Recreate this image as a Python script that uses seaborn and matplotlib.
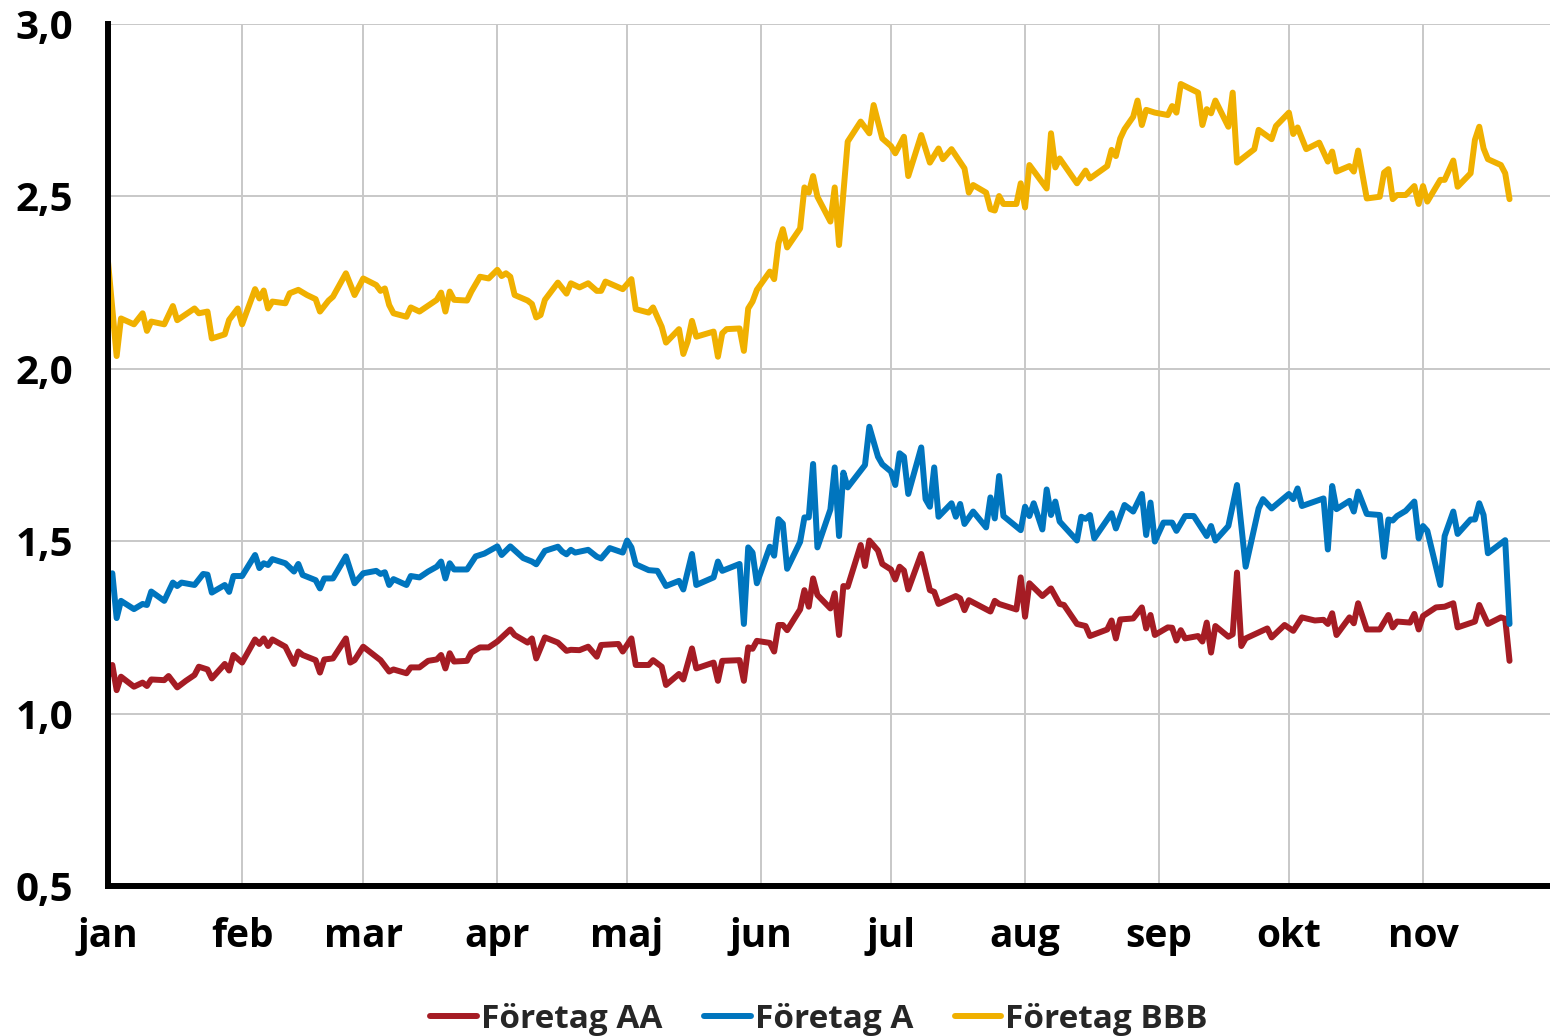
import numpy as np
import pandas as pd
import matplotlib
matplotlib.use("Agg")
import matplotlib.pyplot as plt
import seaborn as sns

# ---------------- data (day offset from 1 Jan, value) ----------------
month_labels = ["jan", "feb", "mar", "apr", "maj", "jun", "jul", "aug", "sep", "okt", "nov"]
series_names = ["Företag AA", "Företag A", "Företag BBB"]
series_colors = ["#A51C24", "#0075BE", "#F0B000"]

bbb_days = [0, 2, 3, 6, 8, 9, 10, 13, 15, 16, 20, 21, 23, 24, 27, 28, 30, 31, 34, 35, 36, 37, 38, 41, 42, 44, 46,
            48, 49, 51, 52, 55, 57, 59, 62, 63, 64, 65, 66, 69, 70, 72, 76, 77, 78, 79, 80, 83, 84, 86, 88, 90, 91,
            92, 93, 94, 97, 98, 99, 100, 101, 104, 106, 107, 109, 111, 113, 114, 115, 119, 121, 122, 125, 126, 128,
            129, 132, 133, 134, 135, 136, 140, 141, 142, 143, 146, 147, 148, 149, 150, 153, 154, 155, 156, 157, 160,
            161, 162, 163, 164, 167, 168, 169, 171, 174, 176, 177, 178, 179, 181, 182, 184, 185, 188, 190, 192, 193,
            195, 198, 199, 200, 203, 204, 205, 206, 207, 210, 211, 212, 213, 217, 218, 219, 220, 224, 226, 227, 231,
            232, 233, 234, 235, 237, 238, 239, 240, 242, 245, 246, 247, 248, 252, 253, 254, 255, 256, 259, 260, 261,
            265, 266, 269, 270, 273, 274, 275, 277, 280, 282, 283, 284, 287, 288, 289, 291, 294, 295, 296, 297, 298,
            300, 302, 303, 304, 305, 308, 309, 311, 312, 315, 316, 317, 318, 319, 322, 323, 324]
bbb_vals = [2.311, 2.037, 2.146, 2.129, 2.161, 2.110, 2.137, 2.129, 2.182, 2.141, 2.175, 2.161, 2.166, 2.088, 2.100,
            2.142, 2.175, 2.129, 2.231, 2.204, 2.227, 2.175, 2.195, 2.190, 2.219, 2.229, 2.214, 2.202, 2.166, 2.198,
            2.209, 2.277, 2.214, 2.262, 2.243, 2.226, 2.233, 2.185, 2.161, 2.151, 2.178, 2.166, 2.200, 2.221, 2.166,
            2.224, 2.200, 2.198, 2.224, 2.267, 2.262, 2.287, 2.269, 2.277, 2.267, 2.214, 2.198, 2.188, 2.149, 2.156,
            2.200, 2.250, 2.218, 2.248, 2.236, 2.248, 2.226, 2.226, 2.253, 2.231, 2.260, 2.173, 2.163, 2.178, 2.122,
            2.076, 2.115, 2.043, 2.079, 2.139, 2.093, 2.108, 2.035, 2.103, 2.115, 2.117, 2.052, 2.175, 2.195, 2.229,
            2.282, 2.260, 2.364, 2.405, 2.352, 2.407, 2.526, 2.511, 2.559, 2.499, 2.427, 2.526, 2.359, 2.659, 2.717,
            2.683, 2.765, 2.717, 2.668, 2.646, 2.625, 2.673, 2.559, 2.678, 2.598, 2.639, 2.608, 2.637, 2.581, 2.511,
            2.533, 2.511, 2.463, 2.459, 2.501, 2.478, 2.478, 2.538, 2.468, 2.591, 2.523, 2.683, 2.584, 2.610, 2.538,
            2.575, 2.552, 2.588, 2.635, 2.617, 2.668, 2.695, 2.731, 2.778, 2.707, 2.751, 2.743, 2.736, 2.762, 2.743,
            2.826, 2.801, 2.707, 2.753, 2.741, 2.778, 2.702, 2.801, 2.598, 2.637, 2.693, 2.666, 2.704, 2.743, 2.681,
            2.700, 2.637, 2.656, 2.601, 2.630, 2.572, 2.588, 2.572, 2.633, 2.494, 2.499, 2.569, 2.579, 2.492, 2.504,
            2.504, 2.530, 2.478, 2.530, 2.485, 2.548, 2.548, 2.604, 2.528, 2.567, 2.664, 2.702, 2.639, 2.608, 2.591,
            2.567, 2.492]

a_days = [0, 1, 2, 3, 6, 8, 9, 10, 13, 15, 16, 17, 20, 22, 23, 24, 27, 28, 29, 31, 34, 35, 36, 37, 38, 41, 43, 44,
          45, 48, 49, 50, 52, 55, 57, 59, 62, 63, 64, 65, 66, 69, 70, 72, 74, 76, 77, 78, 79, 80, 83, 85, 87, 90, 91,
          93, 96, 98, 99, 101, 104, 105, 106, 107, 108, 111, 113, 114, 116, 119, 120, 121, 122, 125, 127, 129, 132,
          133, 135, 136, 140, 141, 142, 146, 147, 148, 149, 150, 153, 154, 155, 156, 157, 160, 161, 162, 163, 164,
          167, 168, 169, 170, 171, 175, 176, 178, 179, 181, 182, 183, 184, 185, 188, 189, 190, 191, 192, 195, 196,
          197, 198, 200, 203, 204, 205, 206, 207, 211, 212, 213, 214, 216, 217, 218, 219, 220, 224, 225, 226, 227,
          228, 232, 233, 235, 237, 239, 240, 241, 242, 244, 246, 247, 249, 251, 254, 255, 256, 259, 261, 263, 266,
          267, 269, 273, 274, 275, 276, 281, 282, 283, 284, 287, 288, 289, 291, 294, 295, 296, 297, 298, 300, 302,
          303, 304, 305, 308, 309, 311, 312, 315, 316, 317, 318, 319, 323, 324]
a_vals = [1.358, 1.407, 1.277, 1.327, 1.303, 1.318, 1.315, 1.354, 1.327, 1.380, 1.370, 1.380, 1.373, 1.405, 1.403,
          1.351, 1.373, 1.353, 1.399, 1.399, 1.460, 1.422, 1.436, 1.431, 1.448, 1.436, 1.412, 1.434, 1.402, 1.387,
          1.363, 1.392, 1.392, 1.456, 1.378, 1.407, 1.414, 1.405, 1.410, 1.373, 1.390, 1.373, 1.399, 1.395, 1.412,
          1.426, 1.441, 1.392, 1.436, 1.418, 1.418, 1.456, 1.464, 1.485, 1.460, 1.485, 1.451, 1.441, 1.433, 1.472,
          1.484, 1.470, 1.462, 1.475, 1.467, 1.475, 1.455, 1.450, 1.480, 1.467, 1.502, 1.482, 1.433, 1.416, 1.414,
          1.370, 1.385, 1.360, 1.463, 1.373, 1.395, 1.441, 1.414, 1.434, 1.260, 1.482, 1.467, 1.378, 1.484, 1.458,
          1.564, 1.551, 1.420, 1.498, 1.569, 1.569, 1.724, 1.482, 1.592, 1.714, 1.515, 1.699, 1.656, 1.721, 1.832,
          1.745, 1.723, 1.702, 1.663, 1.755, 1.745, 1.637, 1.772, 1.622, 1.600, 1.714, 1.571, 1.610, 1.571, 1.608,
          1.550, 1.586, 1.540, 1.627, 1.566, 1.689, 1.573, 1.532, 1.600, 1.573, 1.610, 1.534, 1.650, 1.576, 1.615,
          1.557, 1.502, 1.571, 1.565, 1.576, 1.508, 1.581, 1.537, 1.605, 1.586, 1.637, 1.518, 1.612, 1.499, 1.554,
          1.554, 1.530, 1.573, 1.573, 1.515, 1.544, 1.502, 1.544, 1.663, 1.426, 1.595, 1.622, 1.595, 1.637, 1.622,
          1.653, 1.602, 1.624, 1.476, 1.660, 1.593, 1.617, 1.586, 1.644, 1.579, 1.576, 1.455, 1.563, 1.560, 1.573,
          1.588, 1.615, 1.508, 1.544, 1.530, 1.373, 1.515, 1.586, 1.521, 1.563, 1.563, 1.610, 1.576, 1.465, 1.503,
          1.260]

aa_days = [0, 1, 2, 3, 6, 8, 9, 10, 13, 14, 16, 18, 20, 21, 23, 24, 27, 28, 29, 31, 34, 35, 36, 37, 38, 41, 43, 44,
           45, 48, 49, 50, 52, 55, 56, 57, 59, 63, 65, 66, 69, 70, 72, 74, 76, 77, 78, 79, 80, 83, 84, 86, 88, 90,
           93, 94, 97, 98, 99, 101, 104, 106, 107, 109, 111, 113, 114, 118, 119, 121, 122, 125, 126, 128, 129, 132,
           133, 135, 136, 140, 141, 142, 146, 147, 148, 149, 150, 153, 154, 155, 156, 157, 160, 161, 162, 163, 164,
           167, 168, 169, 170, 171, 174, 175, 176, 178, 179, 181, 182, 183, 184, 185, 188, 190, 191, 192, 196, 197,
           198, 199, 204, 205, 206, 210, 211, 212, 213, 216, 218, 220, 221, 224, 226, 227, 231, 232, 233, 234, 237,
           239, 240, 241, 242, 245, 246, 247, 248, 249, 252, 253, 254, 255, 256, 259, 260, 261, 262, 263, 268, 269,
           272, 274, 276, 279, 281, 282, 283, 284, 287, 288, 289, 291, 294, 296, 297, 298, 301, 302, 303, 304, 307,
           309, 311, 312, 316, 317, 319, 322, 323, 324]
aa_vals = [1.107, 1.141, 1.068, 1.107, 1.078, 1.090, 1.080, 1.099, 1.097, 1.109, 1.076, 1.095, 1.112, 1.136, 1.128,
           1.102, 1.144, 1.125, 1.170, 1.148, 1.215, 1.202, 1.218, 1.196, 1.215, 1.194, 1.144, 1.180, 1.170, 1.155,
           1.119, 1.157, 1.160, 1.218, 1.148, 1.155, 1.194, 1.155, 1.122, 1.128, 1.117, 1.134, 1.134, 1.153, 1.157,
           1.170, 1.131, 1.175, 1.151, 1.153, 1.177, 1.192, 1.192, 1.209, 1.244, 1.228, 1.206, 1.218, 1.160, 1.221,
           1.206, 1.182, 1.185, 1.184, 1.194, 1.165, 1.199, 1.202, 1.180, 1.218, 1.141, 1.141, 1.155, 1.136, 1.083,
           1.115, 1.099, 1.189, 1.131, 1.148, 1.095, 1.153, 1.155, 1.095, 1.192, 1.188, 1.211, 1.205, 1.180, 1.257,
           1.257, 1.242, 1.302, 1.358, 1.310, 1.392, 1.344, 1.305, 1.349, 1.228, 1.370, 1.368, 1.489, 1.428, 1.502,
           1.473, 1.434, 1.418, 1.389, 1.426, 1.415, 1.360, 1.463, 1.358, 1.353, 1.318, 1.341, 1.334, 1.300, 1.329,
           1.296, 1.327, 1.318, 1.302, 1.395, 1.281, 1.378, 1.341, 1.363, 1.318, 1.315, 1.260, 1.254, 1.225, 1.244,
           1.270, 1.218, 1.273, 1.276, 1.308, 1.247, 1.286, 1.228, 1.250, 1.249, 1.212, 1.242, 1.218, 1.225, 1.209,
           1.264, 1.177, 1.254, 1.223, 1.230, 1.409, 1.196, 1.218, 1.247, 1.221, 1.257, 1.240, 1.279, 1.270, 1.272,
           1.260, 1.291, 1.228, 1.279, 1.262, 1.320, 1.244, 1.244, 1.286, 1.250, 1.267, 1.264, 1.289, 1.244, 1.283,
           1.308, 1.310, 1.320, 1.250, 1.267, 1.315, 1.260, 1.279, 1.275, 1.153]

# ---------------- build long-form table ----------------
base = pd.Timestamp("2022-01-01")
frames = []
for name, d, v in zip(series_names, [aa_days, a_days, bbb_days], [aa_vals, a_vals, bbb_vals]):
    frames.append(pd.DataFrame({"date": base + pd.to_timedelta(np.array(d), unit="D"),
                                "value": v, "serie": name}))
df = pd.concat(frames, ignore_index=True)

# ---------------- plot ----------------
sns.set_theme(style="white")
plt.rcParams["font.family"] = ["Open Sans", "DejaVu Sans"]
plt.rcParams["font.weight"] = "bold"

W, H = 1550, 1036
fig = plt.figure(figsize=(W / 100, H / 100), dpi=100)
x0_px, x_end_px = 108, 108 + 334 * 4.3257
ax = fig.add_axes([x0_px / W, 150 / H, (x_end_px - x0_px) / W, 862 / H])

LW = 4.3
sns.lineplot(data=df, x="date", y="value", hue="serie", hue_order=series_names,
             palette=dict(zip(series_names, series_colors)), estimator=None, sort=False,
             linewidth=LW, ax=ax, zorder=3)

month_ticks = pd.date_range(base, periods=len(month_labels), freq="MS")
ax.set_xlim(base, base + pd.Timedelta(days=334))
ax.set_ylim(0.5, 3.0)
ax.set_xticks(month_ticks)
ax.set_xticklabels(month_labels)
yt = [0.5, 1.0, 1.5, 2.0, 2.5, 3.0]
ax.set_yticks(yt)
ax.set_yticklabels([f"{v:.1f}".replace(".", ",") for v in yt])
ax.set_xlabel("")
ax.set_ylabel("")

ax.grid(True, color="#C8C8C8", linewidth=1.4, zorder=0)
ax.set_axisbelow(True)
for s in ["top", "right"]:
    ax.spines[s].set_visible(False)
for s in ["left", "bottom"]:
    ax.spines[s].set_color("black")
    ax.spines[s].set_linewidth(4.3)
    ax.spines[s].set_zorder(5)

ax.tick_params(axis="both", direction="in", length=7.5, width=3.4, color="black",
               labelcolor="black")
ax.tick_params(axis="y", pad=25, labelsize=29)
ax.tick_params(axis="x", pad=22, labelsize=28)
for lab in ax.get_xticklabels() + ax.get_yticklabels():
    lab.set_fontweight("bold")

handles, labels = ax.get_legend_handles_labels()
if ax.legend_:
    ax.legend_.remove()
leg = fig.legend(handles, labels, loc="center", bbox_to_anchor=(819 / W, 17 / H), ncol=3,
                 frameon=False, prop={"weight": "bold", "size": 24},
                 handlelength=1.4, handletextpad=0.12, columnspacing=1.25)
for lh in leg.get_lines():
    lh.set_linewidth(LW)

fig.savefig("out.png", dpi=100)
